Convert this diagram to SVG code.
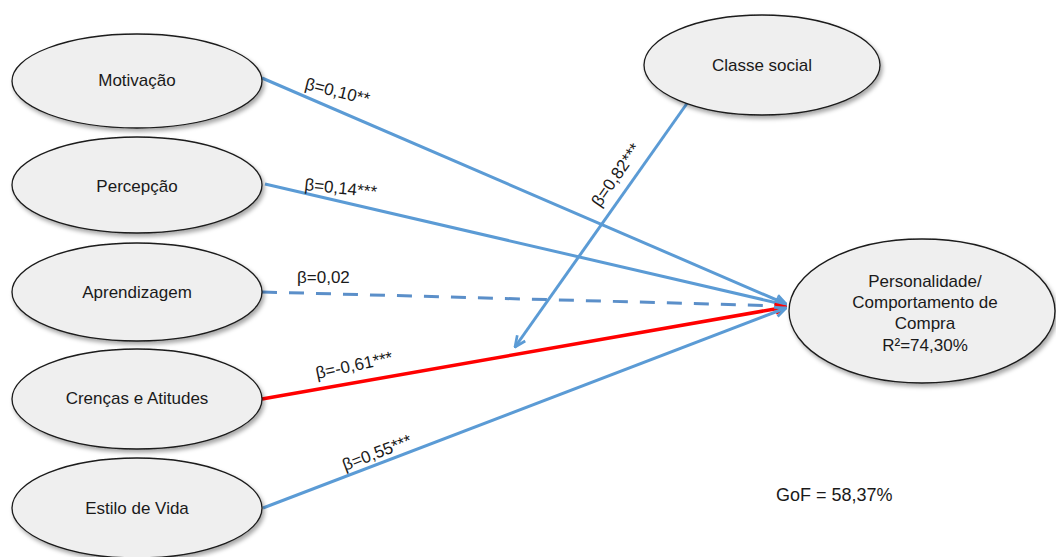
<svg xmlns="http://www.w3.org/2000/svg" width="1056" height="557" viewBox="0 0 1056 557">
<defs>
<style>
.node ellipse{fill:#efefef;stroke:#1a1a1a;stroke-width:1.3;filter:url(#sh)}
.node text{font-family:"Liberation Sans",Arial,sans-serif;font-size:17px;fill:#1a1a1a;text-anchor:middle}
.edge{fill:none;stroke:#5b9bd5;stroke-width:3}
.red{stroke:#ff0000;stroke-width:3.5}
.dash{stroke:#5b8fc9;stroke-dasharray:15 12}
.lbl{font-family:"Liberation Sans",Arial,sans-serif;font-size:17px;fill:#1a1a1a}
</style>
<filter id="sh" x="-10%" y="-10%" width="125%" height="130%">
<feDropShadow dx="2" dy="3" stdDeviation="2" flood-color="#000" flood-opacity="0.35"/>
</filter>
<marker id="ab" viewBox="0 0 12 12" refX="11" refY="6" markerWidth="13" markerHeight="13" markerUnits="userSpaceOnUse" orient="auto">
<path d="M1,1.5 L11,6 L1,10.5" fill="none" stroke="#5b9bd5" stroke-width="2.5" stroke-dasharray="none"/>
</marker>
<marker id="ar" viewBox="0 0 12 12" refX="11" refY="6" markerWidth="13" markerHeight="13" markerUnits="userSpaceOnUse" orient="auto">
<path d="M1,1.5 L11,6 L1,10.5" fill="none" stroke="#ff0000" stroke-width="2.5"/>
</marker>
</defs>
<rect width="1056" height="557" fill="#ffffff"/>
<g id="connectors">
<line class="edge" x1="262" y1="78" x2="786" y2="304" marker-end="url(#ab)"/>
<line class="edge" x1="265" y1="184" x2="786" y2="305" marker-end="url(#ab)"/>
<line class="edge dash" x1="262" y1="292" x2="786" y2="306" marker-end="url(#ab)"/>
<line class="edge red" x1="262" y1="399" x2="786" y2="307" marker-end="url(#ar)"/>
<line class="edge" x1="263" y1="508" x2="786" y2="308" marker-end="url(#ab)"/>
<line class="edge" x1="688" y1="102" x2="515" y2="347" marker-end="url(#ab)"/>
<text class="lbl" transform="translate(304,89) rotate(14)">β=0,10**</text>
<text class="lbl" transform="translate(304,190) rotate(6)">β=0,14***</text>
<text class="lbl" x="297" y="283">β=0,02</text>
<text class="lbl" transform="translate(317,379) rotate(-12)">β=-0,61***</text>
<text class="lbl" transform="translate(345,471) rotate(-21)">β=0,55***</text>
<text class="lbl" transform="translate(600,208) rotate(-55)">β=0,82***</text>
</g>
<g id="motivacao" class="node"><ellipse cx="137" cy="81" rx="125" ry="47"/><text x="137" y="86">Motivação</text></g>
<g id="percepcao" class="node"><ellipse cx="137" cy="185" rx="125" ry="48"/><text x="137" y="192">Percepção</text></g>
<g id="aprendizagem" class="node"><ellipse cx="137" cy="292" rx="125" ry="49"/><text x="137" y="298">Aprendizagem</text></g>
<g id="crencas" class="node"><ellipse cx="137" cy="399" rx="125" ry="50"/><text x="137" y="404">Crenças e Atitudes</text></g>
<g id="estilo" class="node"><ellipse cx="137" cy="508" rx="125" ry="50"/><text x="137" y="514">Estilo de Vida</text></g>
<g id="classe" class="node"><ellipse cx="762" cy="65" rx="118" ry="50"/><text x="762" y="71">Classe social</text></g>
<g id="personalidade" class="node"><ellipse cx="922" cy="311" rx="133" ry="72"/>
<text x="925" y="287">Personalidade/</text>
<text x="925" y="308">Comportamento de</text>
<text x="925" y="329">Compra</text>
<text x="925" y="351">R²=74,30%</text></g>
<g id="gof"><text class="lbl" x="776" y="501" style="font-size:18px">GoF = 58,37%</text></g>
</svg>
